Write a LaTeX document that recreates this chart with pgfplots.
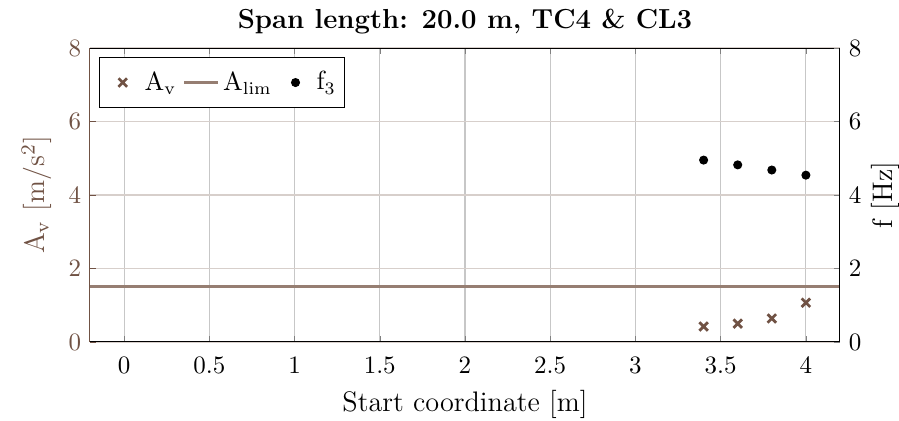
\documentclass[border=0pt]{standalone}
\usepackage{pgfplots}
\pgfplotsset{compat=1.18}
\definecolor{avc}{RGB}{112,82,68}
\definecolor{limc}{RGB}{150,126,114}
\begin{document}
\begin{tikzpicture}
\pgfplotsset{
  common/.style={
    at={(0,0)}, anchor=south west,
    scale only axis, width=300pt, height=117.6pt,
    xmin=-0.2, xmax=4.2, ymin=0, ymax=8,
    tick align=inside, major tick length=2.5pt,
    ticklabel style={font=\fontsize{10}{12}\selectfont},
    label style={font=\fontsize{11.3}{13}\selectfont},
  }
}
\begin{axis}[common,
  axis x line*=box, axis y line*=left,
  xtick={0,0.5,1,1.5,2,2.5,3,3.5,4},
  ytick={0,2,4,6,8},
  xmajorgrids, ymajorgrids,
  every axis x grid/.style={black!22, line width=0.45pt},
  every axis y grid/.style={avc!28, line width=0.45pt},
  y axis line style={avc},
  every y tick/.append style={avc},
  y tick label style={avc},
  x tick label style={yshift=-2.5pt},
  ylabel style={avc},
  xlabel={Start coordinate [m]},
  ylabel={A$_\mathrm{v}$ [m/s$^2$]},
  title={\bfseries Span length: 20.0 m, TC4 \& CL3},
  title style={font=\fontsize{11}{13}\selectfont, yshift=-4pt},
]
\addplot[limc, line width=1.2pt, forget plot] coordinates {(-0.2,1.5) (4.2,1.5)};
\addplot[only marks, mark=x, mark size=2.4pt, avc, line width=1.1pt, forget plot] coordinates {
(3.4,0.42) (3.6,0.50) (3.8,0.64) (4.0,1.07)};
\end{axis}
\begin{axis}[common,
  axis x line=none, axis y line*=right,
  ytick={0,2,4,6,8},
  ylabel={f [Hz]},
  ylabel style={yshift=3pt},
  legend columns=3,
  legend style={at={(0,1)}, anchor=north west, xshift=3.6pt, yshift=-3.6pt,
    draw=black, fill=white, font=\fontsize{10.5}{12}\selectfont,
    inner xsep=2pt, inner ysep=3.5pt,
    /tikz/every even column/.append style={column sep=1pt},
    /tikz/every odd column/.append style={column sep=0pt},
    nodes={inner xsep=1.5pt}},
  legend image code/.code={\path (0pt,0pt) (13.5pt,0pt);\draw[mark repeat=2,mark phase=2] plot coordinates {(0pt,0pt) (6.75pt,0pt) (13.5pt,0pt)};},
]
\addlegendimage{only marks, mark=x, mark size=2.4pt, avc, line width=1.1pt}
\addlegendentry{A$_\mathrm{v}$}
\addlegendimage{limc, line width=1.2pt}
\addlegendentry{A$_\mathrm{lim}$}
\addplot[only marks, mark=*, mark size=1.6pt, black] coordinates {
(3.4,4.95) (3.6,4.82) (3.8,4.68) (4.0,4.54)};
\addlegendentry{f$_\mathrm{3}$}
\end{axis}
\pgfresetboundingbox
\path[use as bounding box] (-36pt,-31.6pt) rectangle (323.6pt,136.8pt);
\end{tikzpicture}
\end{document}
